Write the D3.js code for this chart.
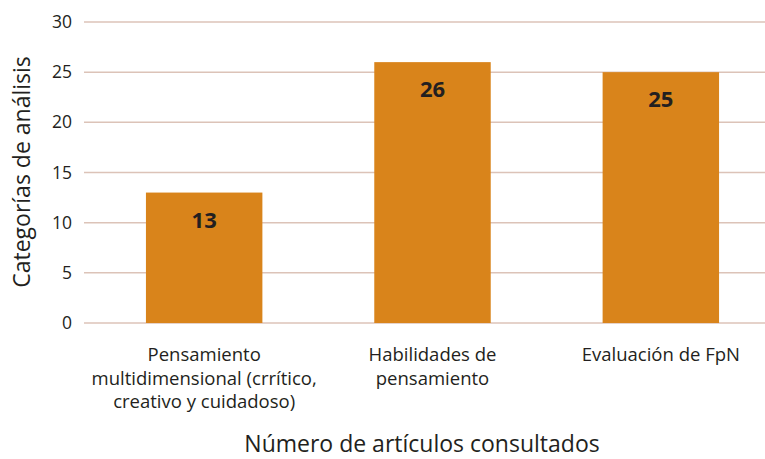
<!DOCTYPE html>
<html>
<head>
<meta charset="utf-8">
<script src="https://cdn.jsdelivr.net/npm/d3@7"></script>
<style>
  body { margin: 0; background: #fff; }
  text { font-family: "Open Sans", "Noto Sans", sans-serif; fill: #231f20; }
</style>
</head>
<body>
<div id="chart"></div>
<script>
var categories = [
    ["Pensamiento", "multidimensional (crrítico,", "creativo y cuidadoso)"],
    ["Habilidades de", "pensamiento"],
    ["Evaluación de FpN"]
];
var values = [13, 26, 25];
var yTicks = [0, 5, 10, 15, 20, 25, 30];

function init() {
    var w = 765;
    var h = 459;

    var svg = d3.select("#chart")
                .append("svg")
                .attr("width", w)
                .attr("height", h);

    var xScale = d3.scaleBand()
                   .domain(d3.range(values.length))
                   .range([90, 775])
                   .paddingInner(0.49)
                   .paddingOuter(0.245);

    var yScale = d3.scaleLinear()
                   .domain([0, 30])
                   .range([323, 22]);

    // gridlines
    svg.append("g")
       .selectAll("line")
       .data(yTicks)
       .enter()
       .append("line")
       .attr("x1", 84)
       .attr("x2", w)
       .attr("y1", function(d) { return yScale(d); })
       .attr("y2", function(d) { return yScale(d); })
       .attr("stroke", "#dcc3b8")
       .attr("stroke-width", 1.5);

    // y tick labels
    svg.append("g")
       .selectAll("text")
       .data(yTicks)
       .enter()
       .append("text")
       .attr("x", 72)
       .attr("y", function(d) { return yScale(d); })
       .attr("dy", "0.35em")
       .attr("text-anchor", "end")
       .style("font-size", "17.5px")
       .text(function(d) { return d; });

    // bars
    svg.append("g")
       .selectAll("rect")
       .data(values)
       .enter()
       .append("rect")
       .attr("x", function(d, i) { return xScale(i); })
       .attr("y", function(d) { return yScale(d); })
       .attr("width", xScale.bandwidth())
       .attr("height", function(d) { return yScale(0) - yScale(d); })
       .attr("fill", "#d9841b");

    // value labels
    svg.append("g")
       .selectAll("text")
       .data(values)
       .enter()
       .append("text")
       .attr("x", function(d, i) { return xScale(i) + xScale.bandwidth() / 2; })
       .attr("y", function(d) { return yScale(d) + 35; })
       .attr("text-anchor", "middle")
       .style("font-size", "22px")
       .style("font-weight", "bold")
       .text(function(d) { return d; });

    // category labels
    var cat = svg.append("g")
                 .selectAll("text")
                 .data(categories)
                 .enter()
                 .append("text")
                 .attr("text-anchor", "middle")
                 .style("font-size", "18.5px");

    cat.selectAll("tspan")
       .data(function(d, i) {
           return d.map(function(line) { return { line: line, i: i }; });
       })
       .enter()
       .append("tspan")
       .attr("x", function(d) { return xScale(d.i) + xScale.bandwidth() / 2; })
       .attr("y", function(d, j) { return 361 + j * 23.5; })
       .text(function(d) { return d.line; });

    // axis titles
    svg.append("text")
       .attr("x", 422)
       .attr("y", 452)
       .attr("text-anchor", "middle")
       .style("font-size", "23px")
       .text("Número de artículos consultados");

    svg.append("text")
       .attr("transform", "translate(30, 172) rotate(-90)")
       .attr("text-anchor", "middle")
       .style("font-size", "23px")
       .text("Categorías de análisis");
}

window.onload = init;
</script>
</body>
</html>
